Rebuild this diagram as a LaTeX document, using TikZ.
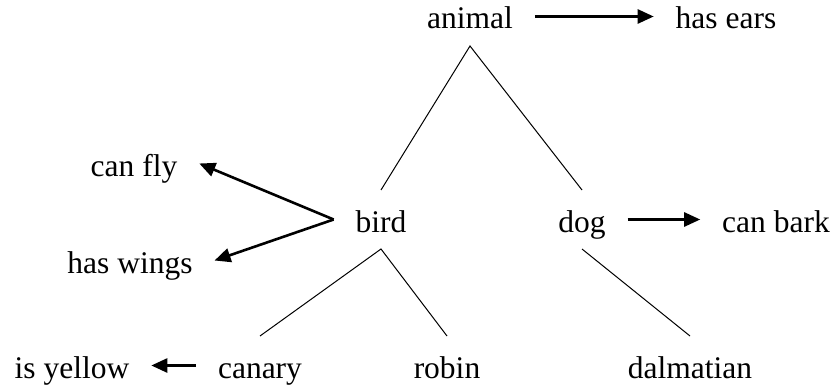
\documentclass[tikz,border=0pt]{standalone}
\usepackage{fontspec}
\setmainfont{Liberation Serif}
\usetikzlibrary{arrows.meta}
\begin{document}
\begin{tikzpicture}[x=1pt,y=-1pt,
  concept/.style={anchor=base, font=\fontsize{31.5}{36}\selectfont,
    text height=33pt, text depth=8pt, inner ysep=9pt, inner xsep=22pt, outer sep=0pt},
  isa/.style={line width=1pt},
  prop/.style={line width=2.6pt, -{Triangle[length=16pt,width=14pt]}}]
\useasboundingbox (0,0) rectangle (833,385);
\node[concept] (animal) at (470,29) {animal};
\node[concept] (ears) at (726,29) {has ears};
\node[concept] (fly) at (134,176) {can fly};
\node[concept] (wings) at (130,273) {has wings};
\node[concept] (bird) at (381,232) {bird};
\node[concept] (dog) at (582,232) {dog};
\node[concept] (bark) at (776,232) {can bark};
\node[concept] (yellow) at (72,378) {is yellow};
\node[concept] (canary) at (260,378) {canary};
\node[concept] (robin) at (447,378) {robin};
\node[concept] (dalmatian) at (690,378) {dalmatian};
\draw[isa] (bird.north) -- (animal.south) -- (dog.north);
\draw[isa] (canary.north) -- (bird.south) -- (robin.north);
\draw[isa] (dog.south) -- (dalmatian.north);
\draw[prop] (animal.east) -- (ears.west);
\draw[prop] (dog.east) -- (bark.west);
\draw[prop] (canary.west) -- (yellow.east);
\draw[prop] (bird.west) -- (fly.east);
\draw[prop] (bird.west) -- (wings.east);
\end{tikzpicture}
\end{document}
